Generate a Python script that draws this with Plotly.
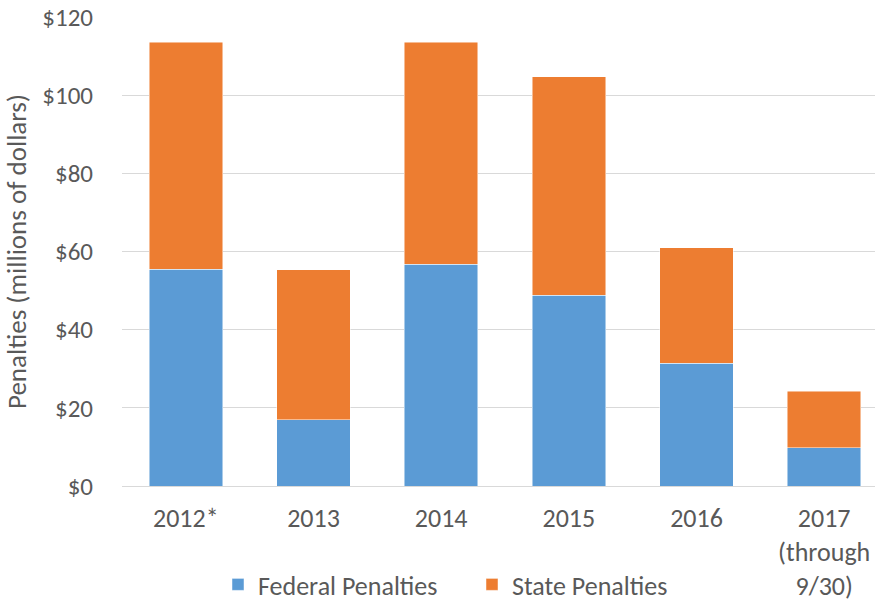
import plotly.graph_objects as go

categories = ["2012*", "2013", "2014", "2015", "2016", "2017<br>(through<br>9/30)"]
federal = [55.4, 17.0, 56.7, 48.8, 31.4, 9.8]
state = [58.2, 38.3, 56.8, 55.9, 29.5, 14.4]
y_ticks = [0, 20, 40, 60, 80, 100, 120]
y_tick_labels = ["$0", "$20", "$40", "$60", "$80", "$100", "$120"]

FONT = "Carlito, Calibri, Liberation Sans, Arial, sans-serif"
GRAY = "#595959"

fig = go.Figure()
fig.add_trace(go.Bar(x=categories, y=federal, name="Federal Penalties",
                     marker=dict(color="#5B9BD5", line=dict(color="rgba(255,255,255,0.6)", width=0.8))))
fig.add_trace(go.Bar(x=categories, y=state, name="State Penalties",
                     marker=dict(color="#ED7D31", line=dict(color="rgba(255,255,255,0.6)", width=0.8))))

fig.update_layout(
    barmode="stack",
    bargap=0.425,
    width=875, height=603,
    margin=dict(l=122, r=0, t=17, b=117, autoexpand=False),
    plot_bgcolor="white", paper_bgcolor="white",
    font=dict(family=FONT, size=26, color=GRAY),
    legend=dict(orientation="h", x=0.1275, y=-0.21, xanchor="left", yanchor="middle",
                bgcolor="rgba(0,0,0,0)", entrywidth=209, entrywidthmode="pixels",
                font=dict(size=26, color=GRAY), traceorder="normal", itemwidth=30),
    xaxis=dict(range=[-0.5, 5.398], showgrid=False, showline=False, ticks="", automargin=False,
               tickfont=dict(size=26, color=GRAY), ticklabelstandoff=14),
    yaxis=dict(range=[0, 120], tickmode="array", tickvals=y_ticks, ticktext=y_tick_labels,
               showgrid=True, automargin=False,
               gridcolor="#D9D9D9", gridwidth=1, zeroline=True, zerolinecolor="#D9D9D9",
               zerolinewidth=1, tickfont=dict(size=25, color=GRAY), ticklabelstandoff=28,
               title=dict(text="Penalties (millions of dollars)",
                          font=dict(size=27, color=GRAY), standoff=8)),
)

fig.write_html("out.html", config={"displayModeBar": False},
               post_script="document.body.style.margin='0';document.body.style.overflow='hidden';")
